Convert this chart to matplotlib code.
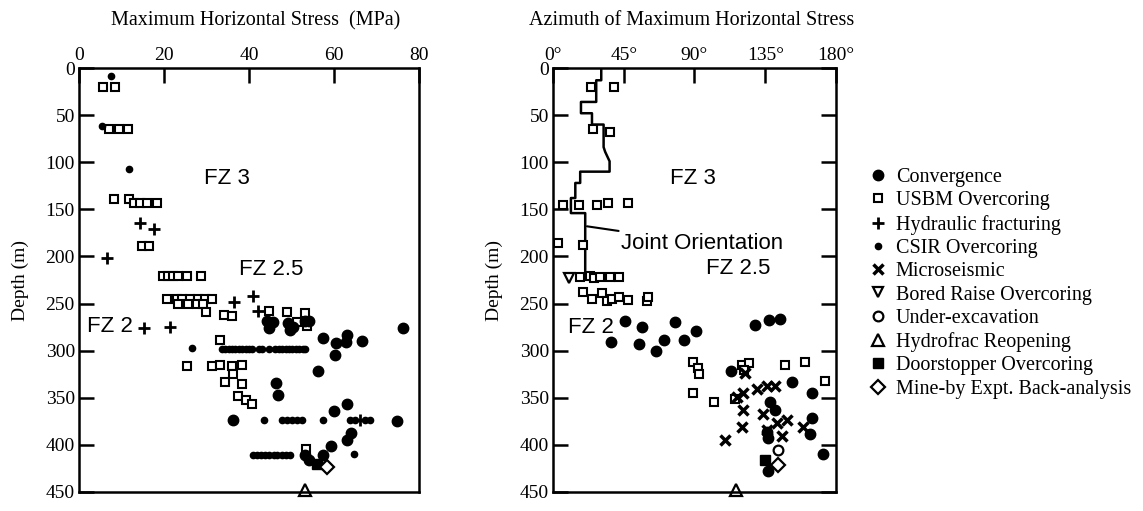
import matplotlib
matplotlib.use('Agg')
import matplotlib.pyplot as plt
from matplotlib.lines import Line2D

# ---- left panel: maximum horizontal stress (MPa) vs depth (m)
usbm_s = [5.6, 8.5, 7.0, 9.5, 11.6, 8.3, 11.8, 12.9, 14.4, 16.1, 18.3, 14.8, 16.5,
          19.8, 21.0, 22.2, 23.4, 25.3, 28.6,
          20.6, 23.0, 24.2, 26.1, 28.1, 29.6, 31.2,
          23.4, 25.7, 27.7, 29.2, 30.0, 34.2, 35.9,
          44.7, 48.9, 53.2, 51.2, 53.6,
          33.2, 25.3, 31.2, 33.2, 35.9, 38.3, 36.3, 34.4, 38.3, 37.5, 39.3, 40.8, 53.4]
usbm_d = [20, 20, 65, 65, 65, 139, 139, 143, 143, 143, 143, 189, 189,
          221, 221, 221, 221, 221, 221,
          245, 245, 245, 245, 245, 245, 245,
          250, 250, 250, 250, 259, 262, 263,
          258, 259, 260, 270, 274,
          289, 316, 316, 315, 316, 315, 325, 333, 335, 348, 352, 357, 404]

hyd_s = [14.4, 17.7, 6.5, 36.5, 40.9, 42.0, 15.3, 21.4, 66.1]
hyd_d = [164, 171, 202, 248, 242, 258, 276, 275, 374]

csir_s = [7.5, 5.3, 11.8, 26.7,
          33.6, 34.4, 35.2, 36.0, 36.8, 37.6, 38.4, 39.2, 40.0, 40.8, 42.3, 43.1, 44.7,
          46.2, 47.0, 47.8, 48.6, 49.4, 50.2, 51.0, 51.8, 52.6, 53.2,
          43.6, 47.7, 48.9, 50.1, 51.3, 52.4, 57.5, 63.8, 65.0, 67.3, 68.5,
          40.9, 41.9, 42.8, 43.8, 44.8, 45.8, 46.7, 47.7, 48.6, 49.6, 64.7]
csir_d = [9, 62, 107, 297,
          298, 298, 298, 298, 298, 298, 298, 298, 298, 298, 298, 298, 298,
          298, 298, 298, 298, 298, 298, 298, 298, 298, 298,
          374, 374, 374, 374, 374, 374, 374, 374, 374, 374, 374,
          411, 411, 411, 411, 411, 411, 411, 411, 411, 411, 410]

conv_s = [44.2, 44.8, 45.7, 49.2, 49.6, 50.4, 53.2, 54.2, 57.5, 60.5, 60.2, 63.0,
          62.8, 66.5, 76.3, 56.3, 46.4, 46.9, 36.3, 60.0, 63.1, 74.8, 63.9, 63.0,
          59.2, 53.2, 54.2, 57.5]
conv_d = [269, 276, 270, 271, 278, 275, 268, 268, 287, 292, 305, 283,
          291, 290, 276, 322, 334, 347, 374, 364, 357, 375, 387, 395,
          401, 411, 416, 411]

door_s, door_d = [55.9], [420]
mineby_s, mineby_d = [58.3], [423]
reopen_s, reopen_d = [53.2], [448]

# ---- right panel: azimuth (deg) vs depth (m)
usbm_a = [24.1, 39.0, 25.2, 36.4, 6.4, 16.3, 28.0, 35.3, 48.0, 2.9, 19.4,
          17.3, 23.7, 25.8, 30.0, 36.4, 41.7,
          19.4, 24.8, 31.1, 34.3, 37.5, 41.7, 48.0, 59.7, 60.7,
          89.3, 92.5, 93.1, 89.3, 102.5, 115.8, 120.1, 124.9, 121.5, 147.6, 160.3, 173.0]
usbm_ad = [20, 20, 65, 68, 145, 145, 145, 143, 143, 186, 188,
           222, 221, 223, 222, 222, 222,
           238, 245, 239, 247, 245, 243, 246, 247, 243,
           312, 318, 325, 345, 355, 351, 315, 313, 320, 315, 312, 332]

conv_a = [45.9, 56.9, 37.0, 54.8, 65.4, 70.9, 77.3, 83.6, 90.9, 128.5, 137.4, 144.4,
          113.3, 151.8, 164.9, 138.0, 141.3, 164.5, 163.5, 136.0, 136.6, 171.5, 136.6]
conv_ad = [269, 275, 291, 293, 300, 289, 270, 289, 279, 273, 267, 266,
           322, 333, 345, 354, 363, 371, 388, 386, 393, 410, 428]

micro_a = [122.2, 116.9, 121.1, 129.6, 136.0, 141.2, 121.1, 133.8, 142.3, 149.1,
           159.2, 120.1, 109.5, 136.0, 145.5]
micro_ad = [324, 349, 345, 341, 337, 338, 363, 367, 377, 374,
            381, 381, 395, 384, 391]

bored_a, bored_ad = [9.9], [223]
under_a, under_ad = [143.3], [405]
door_a, door_ad = [134.9], [416]
mineby_a, mineby_ad = [143.3], [421]
reopen_a, reopen_ad = [116.5], [448]

# joint orientation step trace
joint_a = [30.7, 30.7, 27.5, 27.5, 17.8, 17.8, 24.8, 24.8, 32.2, 32.2, 33.2, 36.0,
           36.0, 17.3, 17.3, 14.2, 14.2, 11.4, 11.4, 20.5, 20.5]
joint_d = [0, 13, 13, 36, 36, 48, 48, 60, 60, 84, 89, 99,
           110, 110, 122, 122, 138, 138, 154, 154, 220]

depth_ticks = [0, 50, 100, 150, 200, 250, 300, 350, 400, 450]
stress_ticks = [0, 20, 40, 60, 80]
az_ticks = [0, 45, 90, 135, 180]

serif = 'Liberation Serif'
sans = 'Liberation Sans'

fig = plt.figure(figsize=(11.43, 5.11), dpi=100)
ax1 = fig.add_axes([0.0691, 0.0372, 0.2975, 0.8297])
ax2 = fig.add_axes([0.4838, 0.0372, 0.2476, 0.8297])

sty = dict(
    conv=dict(marker='o', ms=7.5, mfc='k', mec='k', ls='none'),
    usbm=dict(marker='s', ms=5.5, mfc='white', mec='k', mew=1.5, ls='none'),
    hyd=dict(marker='+', ms=9, mec='k', mew=2, ls='none'),
    csir=dict(marker='o', ms=4.5, mfc='k', mec='k', ls='none'),
    micro=dict(marker='x', ms=6.5, mec='k', mew=2.5, ls='none'),
    bored=dict(marker='v', ms=7, mfc='white', mec='k', mew=1.6, ls='none'),
    under=dict(marker='o', ms=7, mfc='white', mec='k', mew=1.6, ls='none'),
    reopen=dict(marker='^', ms=8, mfc='white', mec='k', mew=1.6, ls='none'),
    door=dict(marker='s', ms=7, mfc='k', mec='k', ls='none'),
    mineby=dict(marker='D', ms=7.5, mfc='white', mec='k', mew=1.6, ls='none'),
)

ax1.plot(usbm_s, usbm_d, **sty['usbm'])
ax1.plot(hyd_s, hyd_d, **sty['hyd'])
ax1.plot(csir_s, csir_d, **sty['csir'])
ax1.plot(conv_s, conv_d, **sty['conv'])
ax1.plot(door_s, door_d, **sty['door'])
ax1.plot(mineby_s, mineby_d, **sty['mineby'])
ax1.plot(reopen_s, reopen_d, clip_on=False, **sty['reopen'])

ax2.plot(joint_a, joint_d, color='k', lw=1.8)
ax2.plot(usbm_a, usbm_ad, **sty['usbm'])
ax2.plot(conv_a, conv_ad, **sty['conv'])
ax2.plot(micro_a, micro_ad, **sty['micro'])
ax2.plot(bored_a, bored_ad, **sty['bored'])
ax2.plot(under_a, under_ad, **sty['under'])
ax2.plot(door_a, door_ad, **sty['door'])
ax2.plot(mineby_a, mineby_ad, **sty['mineby'])
ax2.plot(reopen_a, reopen_ad, clip_on=False, **sty['reopen'])

for ax in (ax1, ax2):
    ax.set_ylim(450, 0)
    ax.set_yticks(depth_ticks)
    ax.xaxis.tick_top()
    ax.tick_params(direction='in', length=11, width=1.8, labelsize=14, pad=3)
    for sp in ax.spines.values():
        sp.set_linewidth(1.8)
    ax.set_ylabel('Depth (m)', fontfamily=serif, fontsize=14, labelpad=12)

ax1.set_xlim(0, 80)
ax1.set_xticks(stress_ticks)
ax1.set_xticklabels([str(t) for t in stress_ticks], fontfamily=serif)
ax1.set_yticklabels([str(t) for t in depth_ticks], fontfamily=serif)
ax1.text(0.52, 1.112, 'Maximum Horizontal Stress  (MPa)', transform=ax1.transAxes,
         ha='center', va='center', fontfamily=serif, fontsize=14.5)

ax2.set_xlim(0, 180)
ax2.set_xticks(az_ticks)
ax2.set_xticklabels([f'{t}°' for t in az_ticks], fontfamily=serif)
ax2.set_yticklabels([str(t) for t in depth_ticks], fontfamily=serif)
ax2.tick_params(right=True)
ax2.text(0.49, 1.112, 'Azimuth of Maximum Horizontal Stress', transform=ax2.transAxes,
         ha='center', va='center', fontfamily=serif, fontsize=14.5)

# zone labels
fz = dict(fontfamily=sans, fontsize=16, ha='center', va='center')
ax1.text(34.7, 117, 'FZ 3', **fz)
ax1.text(45.3, 214, 'FZ 2.5', **fz)
ax1.text(7.2, 274, 'FZ 2', **fz)
ax2.text(89.3, 117, 'FZ 3', **fz)
ax2.text(118, 213, 'FZ 2.5', **fz)
ax2.text(24, 275, 'FZ 2', **fz)
ax2.annotate('Joint Orientation', xy=(21.6, 168), xytext=(43.5, 186),
             fontfamily=sans, fontsize=16, ha='left', va='center',
             arrowprops=dict(arrowstyle='-', color='k', lw=1.5, shrinkA=0, shrinkB=0))

handles = [Line2D([], [], **sty[k]) for k in
           ['conv', 'usbm', 'hyd', 'csir', 'micro', 'bored', 'under', 'reopen', 'door', 'mineby']]
labels = ['Convergence', 'USBM Overcoring', 'Hydraulic fracturing', 'CSIR Overcoring',
          'Microseismic', 'Bored Raise Overcoring', 'Under-excavation',
          'Hydrofrac Reopening', 'Doorstopper Overcoring', 'Mine-by Expt. Back-analysis']
fig.legend(handles, labels, loc='upper left', bbox_to_anchor=(0.752, 0.687),
           frameon=False, prop=dict(family=serif, size=14.5), labelspacing=0.21,
           handletextpad=0.4, handlelength=1.0, borderaxespad=0)

fig.savefig('out.png', dpi=100, facecolor='white')
